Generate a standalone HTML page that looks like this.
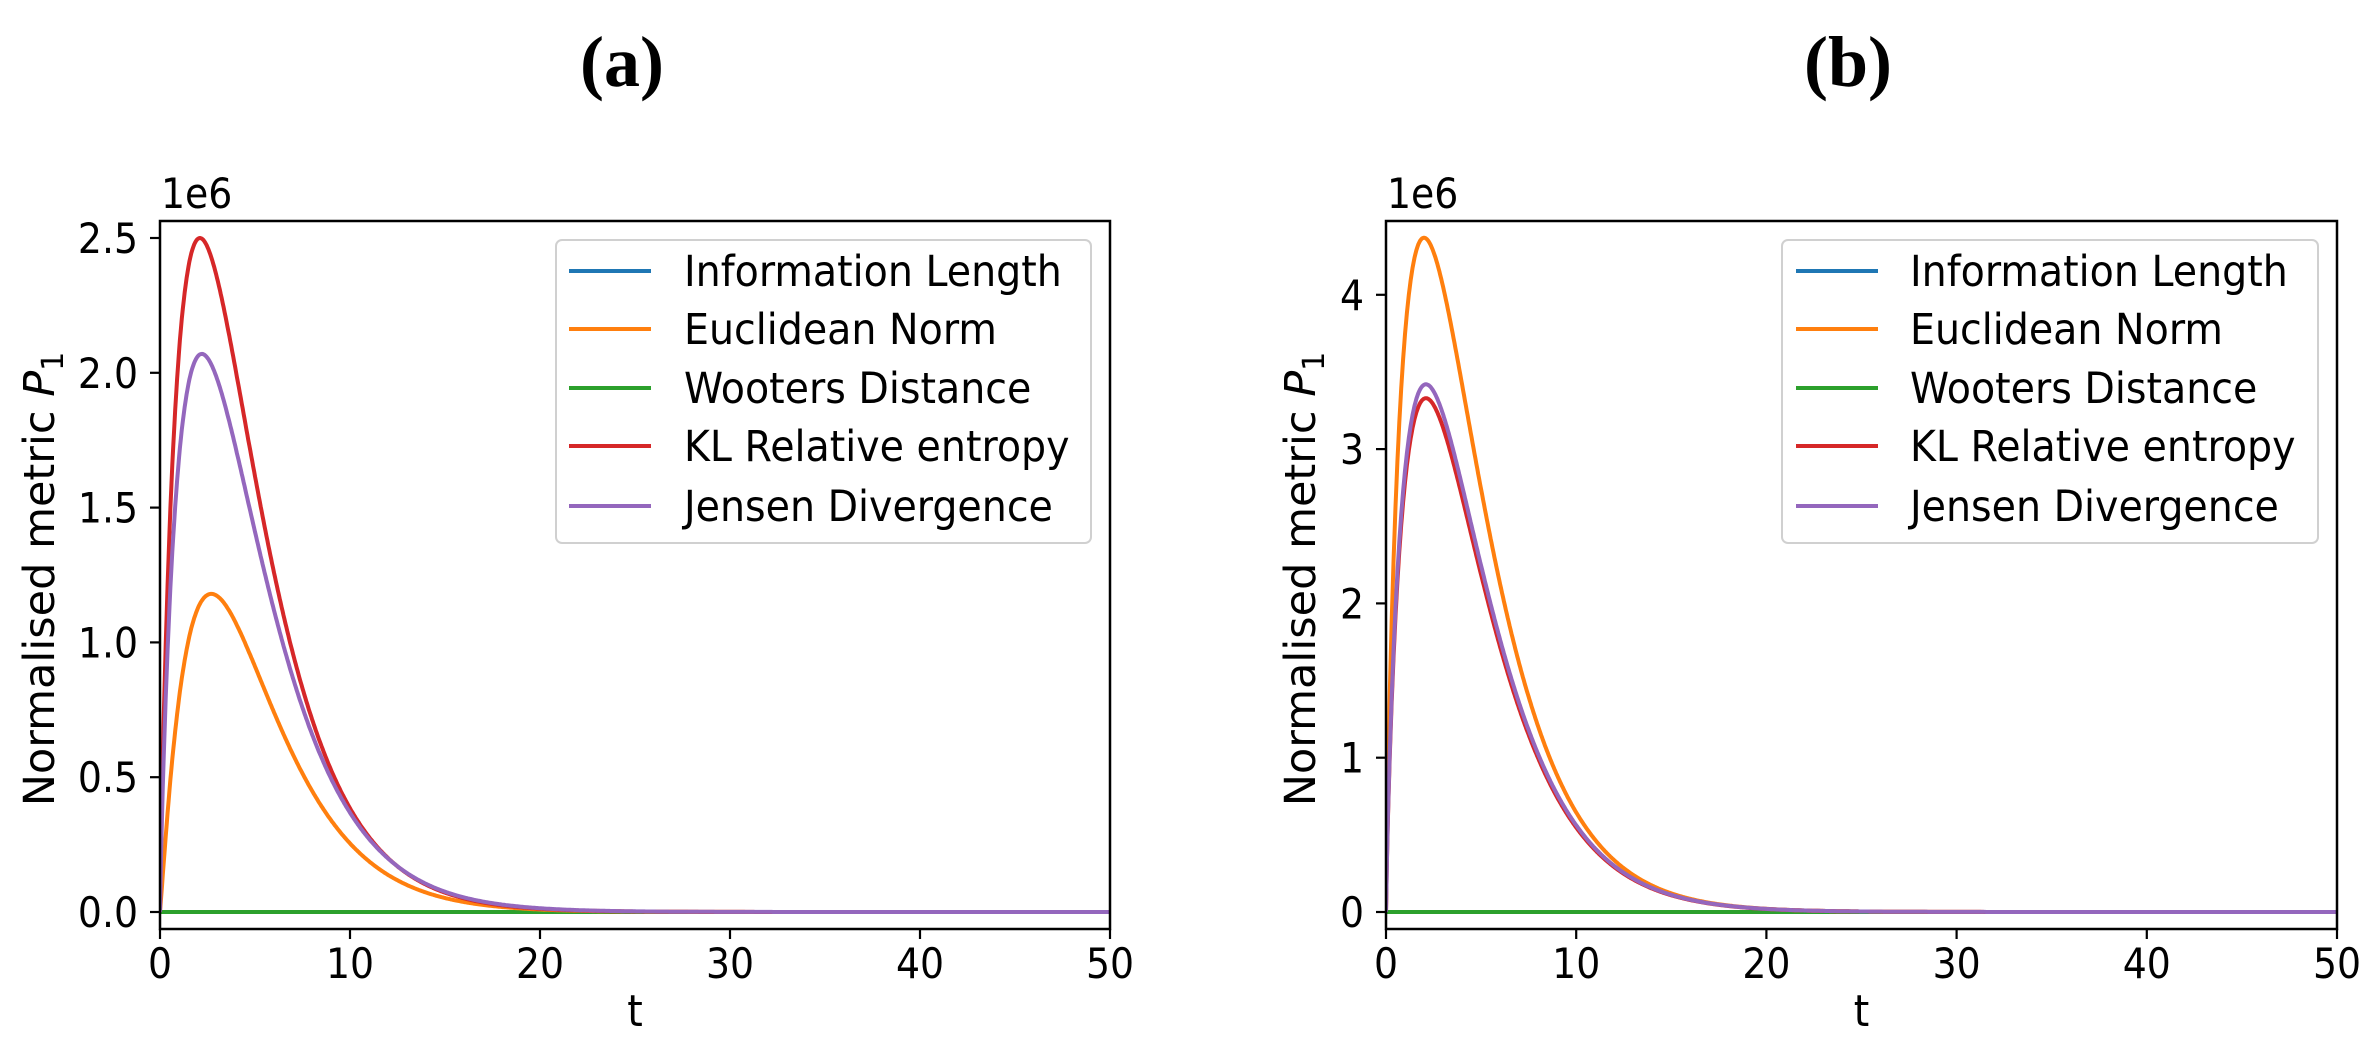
<!DOCTYPE html>
<html><head><meta charset="utf-8"><style>
html,body{margin:0;padding:0;background:#fff;}
svg{display:block;}
text{font-family:"DejaVu Sans","Liberation Sans",sans-serif;fill:#000;}
.t{font-family:"Liberation Serif",serif;font-weight:bold;}
</style></head><body>
<svg id="s" width="2374" height="1043" viewBox="0 0 2374 1043" xmlns="http://www.w3.org/2000/svg">
<text class="t" x="622" y="86" font-size="72" text-anchor="middle">(a)</text>
<text class="t" x="1848" y="86" font-size="72" text-anchor="middle">(b)</text>
</svg>
<script>
const S=document.getElementById('s');const NS='http://www.w3.org/2000/svg';
function el(n,a,txt){const e=document.createElementNS(NS,n);for(const k in a)e.setAttribute(k,a[k]);if(txt!==undefined)e.textContent=txt;S.appendChild(e);return e;}
function txt(x,y,s,anchor,fs,sx){const g=document.createElementNS(NS,'g');g.setAttribute('transform',`translate(${x},${y}) scale(${sx||0.9},1)`);const t=document.createElementNS(NS,'text');t.setAttribute('font-size',fs||42);t.setAttribute('text-anchor',anchor||'start');t.textContent=s;g.appendChild(t);S.appendChild(g);return t;}
function shape(t,A,tp,k){if(t<=0)return 0;const r=t/tp;return A*Math.pow(r,k)*Math.exp(k*(1-r));}
const C={blue:'#1f77b4',orange:'#ff7f0e',green:'#2ca02c',red:'#d62728',purple:'#9467bd'};
function panel(o){
 const {x0,x1,y0,y1,zeroY,ppu,yticks,curves,leg,ylabX}=o;
 const X=t=>x0+(x1-x0)*t/50, Y=v=>zeroY-v*ppu;
 const cp=document.createElementNS(NS,'clipPath');cp.id='c'+x0;const r=document.createElementNS(NS,'rect');r.setAttribute('x',x0);r.setAttribute('y',y0);r.setAttribute('width',x1-x0);r.setAttribute('height',y1-y0);cp.appendChild(r);S.appendChild(cp);
 const g=document.createElementNS(NS,'g');g.setAttribute('clip-path',`url(#c${x0})`);S.appendChild(g);
 function line(pts,c){const p=document.createElementNS(NS,'polyline');p.setAttribute('points',pts);p.setAttribute('fill','none');p.setAttribute('stroke',c);p.setAttribute('stroke-width','4');p.setAttribute('stroke-linejoin','round');g.appendChild(p);}
 line(`${X(0)},${Y(0)} ${X(50)},${Y(0)}`,C.blue);
 line(`${X(0)},${Y(0)} ${X(50)},${Y(0)}`,C.green);
 for(const c of curves){let pts=[];for(let i=0;i<=1000;i++){const t=i*0.05;pts.push(X(t).toFixed(1)+','+Y(shape(t,c[1],c[2],c[3])).toFixed(1));}line(pts.join(' '),C[c[0]]);}
 el('rect',{x:x0,y:y0,width:x1-x0,height:y1-y0,fill:'none',stroke:'#000','stroke-width':2.5});
 for(const [v,l] of yticks){const y=Y(v);el('line',{x1:x0-10,y1:y,x2:x0,y2:y,stroke:'#000','stroke-width':2.2});txt(x0-22,y+15,l,'end');}
 for(let t=0;t<=50;t+=10){const x=X(t);el('line',{x1:x,y1:y1,x2:x,y2:y1+10,stroke:'#000','stroke-width':2.2});txt(x,978,String(t),'middle');}
 txt((x0+x1)/2,1026,'t','middle',44);
 txt(x0+1,208,'1e6','start');
 const yl=document.createElementNS(NS,'text');yl.setAttribute('font-size',43);yl.setAttribute('text-anchor','middle');yl.setAttribute('transform',`translate(${ylabX},${(y0+y1)/2+4}) rotate(-90)`);
 yl.innerHTML='Normalised metric <tspan font-style="italic">P</tspan><tspan font-size="30" dy="9">1</tspan>';S.appendChild(yl);
 el('rect',{x:leg.x,y:240,width:leg.w,height:303,rx:6,fill:'#fff','fill-opacity':0.8,stroke:'#d0d0d0','stroke-width':2});
 const names=[['blue','Information Length'],['orange','Euclidean Norm'],['green','Wooters Distance'],['red','KL Relative entropy'],['purple','Jensen Divergence']];
 const ys=[271,329,388,446,506];
 names.forEach((n,i)=>{el('line',{x1:leg.lx,y1:ys[i],x2:leg.lx+82,y2:ys[i],stroke:C[n[0]],'stroke-width':4});txt(leg.tx,ys[i]+15,n[1],'start',43,0.92);});
}
panel({x0:160,x1:1110,y0:221,y1:929,zeroY:912,ppu:269.6,
 yticks:[[0,'0.0'],[0.5,'0.5'],[1,'1.0'],[1.5,'1.5'],[2,'2.0'],[2.5,'2.5']],
 curves:[['orange',1.18,2.7,1.1],['red',2.5,2.1,0.85],['purple',2.07,2.2,0.85]],
 leg:{x:556,w:535,lx:569,tx:684},ylabX:54});
panel({x0:1386,x1:2337,y0:221,y1:929,zeroY:912,ppu:154.3,
 yticks:[[0,'0'],[1,'1'],[2,'2'],[3,'3'],[4,'4']],
 curves:[['orange',4.37,2.0,0.8],['red',3.33,2.1,0.82],['purple',3.42,2.1,0.82]],
 leg:{x:1782,w:536,lx:1796,tx:1910},ylabX:1315});
</script>
</body></html>
